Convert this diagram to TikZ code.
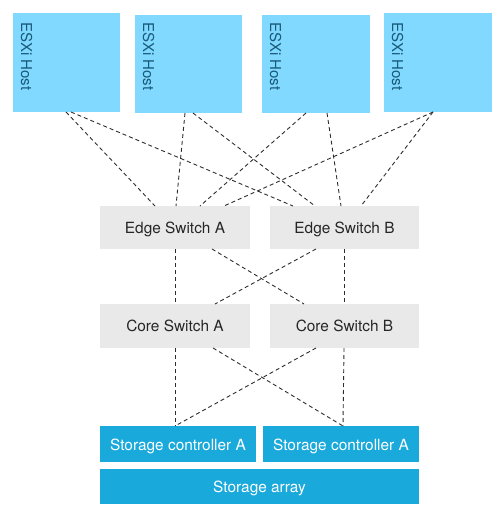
\documentclass[tikz,border=0pt]{standalone}
\usepackage{fontspec}
\setmainfont{TeX Gyre Heros}
\usetikzlibrary{calc}
\definecolor{hostfill}{RGB}{129,217,255}
\definecolor{hosttext}{RGB}{24,90,120}
\definecolor{swfill}{RGB}{233,233,233}
\definecolor{stfill}{RGB}{26,169,219}
\definecolor{linec}{RGB}{45,45,45}
\tikzset{
  host/.style={fill=hostfill, draw=none, inner sep=0, outer sep=0, anchor=north west},
  hostlbl/.style={rotate=-90, anchor=base west, inner sep=0, text=hosttext, font=\fontsize{15bp}{18bp}\selectfont},
  switchbox/.style={fill=swfill, draw=none, inner sep=0, outer sep=0, anchor=north west, minimum width=150bp, minimum height=43bp, text=black!85, font=\fontsize{15.4bp}{18bp}\selectfont, text height=11.6bp, text depth=0bp},
  storebox/.style={fill=stfill, draw=none, inner sep=0, outer sep=0, anchor=north west, text=white, font=\fontsize{15.4bp}{18bp}\selectfont, text height=12.8bp, text depth=0bp},
  link/.style={draw=linec, line width=0.9bp, dash pattern=on 4bp off 3bp},
}
\begin{document}
\begin{tikzpicture}[x=1bp,y=-1bp]
\useasboundingbox (0,0) rectangle (504,518);
% hosts
\node[host, minimum width=107bp, minimum height=99bp] (h1) at (13,13) {};
\node[host, minimum width=107bp, minimum height=98bp] (h2) at (135,15) {};
\node[host, minimum width=108bp, minimum height=98bp] (h3) at (262,15) {};
\node[host, minimum width=108bp, minimum height=99bp] (h4) at (384,13) {};
\node[hostlbl] (h1t) at ($(h1.north west)+(8,9)$) {ESXi Host};
\node[hostlbl] (h2t) at ($(h2.north west)+(8,7)$) {ESXi Host};
\node[hostlbl] (h3t) at ($(h3.north west)+(8,7)$) {ESXi Host};
\node[hostlbl] (h4t) at ($(h4.north west)+(8,9)$) {ESXi Host};
% switches
\node[switchbox] (ea) at (100,206) {Edge Switch A};
\node[switchbox, minimum width=149bp] (eb) at (270,206) {Edge Switch B};
\node[switchbox, minimum height=44bp] (ca) at (100,304) {Core Switch A};
\node[switchbox, minimum width=149bp, minimum height=44bp] (cb) at (270,304) {Core Switch B};
% storage
\node[storebox, minimum width=156bp, minimum height=36bp] (sa) at (100,426) {Storage controller A};
\node[storebox, minimum width=156bp, minimum height=36bp] (sb) at (263,426) {Storage controller A};
\node[storebox, minimum width=319bp, minimum height=35bp] (arr) at (100,469) {Storage array};
% host -> edge links
\draw[link] ($(h1.south west)+(53,0)$) -- ($(ea.north west)+(55,0)$);
\draw[link] ($(h1.south west)+(58,0)$) -- ($(eb.north west)+(23,0)$);
\draw[link] ($(h2.south west)+(50,0)$) -- ($(ea.north west)+(76,0)$);
\draw[link] ($(h2.south west)+(58,0)$) -- ($(eb.north west)+(45,0)$);
\draw[link] ($(h3.south west)+(44,0)$) -- ($(ea.north west)+(100,0)$);
\draw[link] ($(h3.south west)+(65,0)$) -- ($(eb.north west)+(71,0)$);
\draw[link] ($(h4.south west)+(49,0)$) -- ($(ea.north west)+(124,0)$);
\draw[link] ($(h4.south west)+(49,0)$) -- ($(eb.north west)+(91,0)$);
% edge -> core links
\draw[link] ($(ea.south west)+(75,0)$) -- ($(ca.north west)+(75,0)$);
\draw[link] ($(ea.south west)+(112,0)$) -- ($(cb.north west)+(34,0)$);
\draw[link] ($(eb.south west)+(46,0)$) -- ($(ca.north west)+(115,0)$);
\draw[link] ($(eb.south west)+(74,0)$) -- ($(cb.north west)+(74,0)$);
% core -> storage links
\draw[link] ($(ca.south west)+(75,0)$) -- ($(sa.north west)+(75,0)$);
\draw[link] ($(ca.south west)+(113,0)$) -- ($(sb.north west)+(80,0)$);
\draw[link] ($(cb.south west)+(46,0)$) -- ($(sa.north west)+(75,0)$);
\draw[link] ($(cb.south west)+(74,0)$) -- ($(sb.north west)+(80,0)$);
\end{tikzpicture}
\end{document}
